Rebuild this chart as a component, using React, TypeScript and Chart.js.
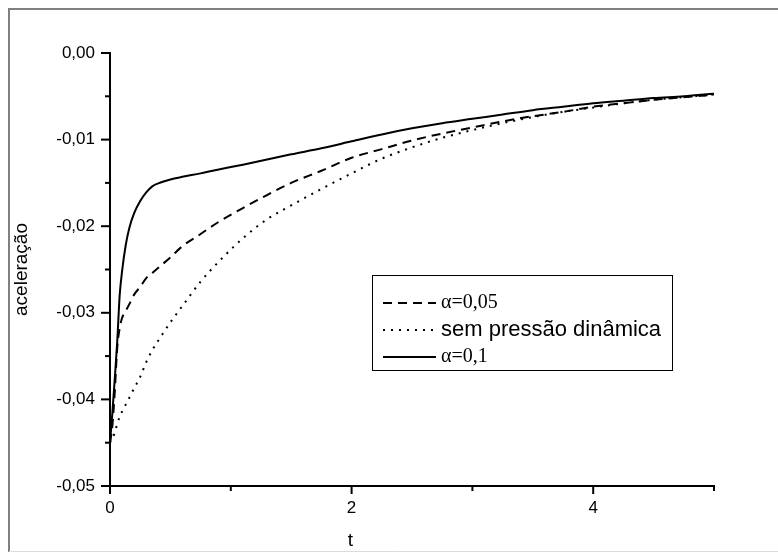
import React, { useEffect, useRef } from 'react';
import { Chart, registerables } from 'chart.js';

Chart.register(...registerables);

// time values (t)
const tValues = [
  0, 0.02, 0.04, 0.06, 0.08, 0.1, 0.13, 0.16, 0.2, 0.25, 0.3, 0.35, 0.4, 0.5, 0.6, 0.75, 0.9,
  1.1, 1.3, 1.5, 1.75, 2, 2.25, 2.5, 2.75, 3, 3.25, 3.5, 3.75, 4, 4.25, 4.5, 4.75, 5,
];

// α = 0,05 (dashed)
const accelAlpha005 = [
  -0.045, -0.043, -0.039, -0.034, -0.0318, -0.0306, -0.0298, -0.029, -0.0279, -0.027, -0.026,
  -0.0254, -0.0248, -0.0236, -0.0223, -0.0209, -0.0195, -0.0179, -0.0164, -0.015, -0.0136,
  -0.0121, -0.0111, -0.0101, -0.0093, -0.0086, -0.0079, -0.0073, -0.0068, -0.0062, -0.0058,
  -0.0054, -0.0051, -0.0048,
];

// sem pressão dinâmica (dotted)
const accelSemPressao = [
  -0.045, -0.0445, -0.0438, -0.0428, -0.042, -0.0414, -0.0406, -0.0398, -0.0387, -0.0374,
  -0.0357, -0.0343, -0.0332, -0.0311, -0.0292, -0.0264, -0.0241, -0.0214, -0.0192, -0.0176,
  -0.0157, -0.0139, -0.0122, -0.0109, -0.0098, -0.0089, -0.0081, -0.0074, -0.0068, -0.0063,
  -0.0058, -0.0054, -0.0051, -0.0048,
];

// α = 0,1 (solid)
const accelAlpha01 = [
  -0.045, -0.0415, -0.0375, -0.0333, -0.028, -0.0252, -0.0222, -0.0202, -0.0185, -0.0171,
  -0.0161, -0.0154, -0.01505, -0.0146, -0.0143, -0.0139, -0.01345, -0.0129, -0.0123, -0.0117,
  -0.011, -0.0102, -0.0094, -0.0087, -0.0081, -0.0076, -0.0071, -0.0066, -0.0062, -0.0058,
  -0.0055, -0.0052, -0.005, -0.0047,
];

const seriesLabels = ['α=0,05', 'sem pressão dinâmica', 'α=0,1'];
const xAxisTitle = 't';
const yAxisTitle = 'aceleração';

const SANS = '"Liberation Sans", Arial, sans-serif';
const SERIF = '"Liberation Serif", "Times New Roman", serif';

const toPoints = (ys: number[]) => tValues.map((t, i) => ({ x: t, y: ys[i] }));

const isMajorY = (v: number) => Math.round(Math.abs(v) * 1000) % 10 === 0;
const isMajorX = (v: number) => Math.round(v) % 2 === 0;

const framePlugin = {
  id: 'frame',
  beforeDraw(chart: any) {
    const { ctx, width, height } = chart;
    ctx.save();
    ctx.fillStyle = '#ffffff';
    ctx.fillRect(0, 0, width, height);
    ctx.strokeStyle = '#808080';
    ctx.lineWidth = 2;
    ctx.beginPath();
    ctx.moveTo(9, height);
    ctx.lineTo(9, 9);
    ctx.lineTo(width, 9);
    ctx.stroke();
    ctx.strokeStyle = '#dcdcdc';
    ctx.lineWidth = 1;
    ctx.beginPath();
    ctx.moveTo(9, 551.5);
    ctx.lineTo(width, 551.5);
    ctx.stroke();
    ctx.restore();
  },
};

const tickMarksPlugin = {
  id: 'tickMarks',
  afterDraw(chart: any) {
    const { ctx, chartArea } = chart;
    const xs = chart.scales.x;
    const ys = chart.scales.y;
    ctx.save();
    ctx.strokeStyle = '#000';
    ctx.lineWidth = 2;
    ys.ticks.forEach((tk: any) => {
      const py = ys.getPixelForValue(tk.value);
      const len = isMajorY(tk.value) ? 9 : 5;
      ctx.beginPath();
      ctx.moveTo(chartArea.left - len, py);
      ctx.lineTo(chartArea.left, py);
      ctx.stroke();
    });
    xs.ticks.forEach((tk: any) => {
      const px = xs.getPixelForValue(tk.value);
      const len = isMajorX(tk.value) ? 8 : 5;
      ctx.beginPath();
      ctx.moveTo(px, chartArea.bottom);
      ctx.lineTo(px, chartArea.bottom + len);
      ctx.stroke();
    });
    // x axis title
    ctx.fillStyle = '#000';
    ctx.font = `19px ${SANS}`;
    ctx.textAlign = 'center';
    ctx.textBaseline = 'alphabetic';
    ctx.fillText(xAxisTitle, xs.getPixelForValue(1.99), 546);
    ctx.restore();
  },
};

const legendBoxPlugin = {
  id: 'legendBox',
  afterDraw(chart: any) {
    const { ctx } = chart;
    ctx.save();
    const bx = 372.5, by = 275.5, bw = 300, bh = 95;
    ctx.fillStyle = '#fff';
    ctx.fillRect(bx, by, bw, bh);
    ctx.strokeStyle = '#000';
    ctx.lineWidth = 1;
    ctx.strokeRect(bx, by, bw, bh);
    const rows = [303, 330, 357];
    const fonts = [`20px ${SERIF}`, `22px ${SANS}`, `20px ${SERIF}`];
    chart.data.datasets.forEach((ds: any, i: number) => {
      const y = rows[i];
      ctx.beginPath();
      ctx.setLineDash(ds.borderDash || []);
      ctx.lineWidth = ds.borderWidth;
      ctx.strokeStyle = ds.borderColor;
      ctx.moveTo(383, y);
      ctx.lineTo(436, y);
      ctx.stroke();
      ctx.setLineDash([]);
      ctx.fillStyle = '#000';
      ctx.font = fonts[i];
      ctx.textAlign = 'left';
      ctx.textBaseline = 'middle';
      ctx.fillText(ds.label, 441, y);
    });
    ctx.restore();
  },
};

export default function App() {
  const canvasRef = useRef<HTMLCanvasElement | null>(null);

  useEffect(() => {
    const canvas = canvasRef.current;
    if (!canvas) return;
    const chart = new Chart(canvas, {
      type: 'line',
      data: {
        datasets: [
          {
            label: seriesLabels[0],
            data: toPoints(accelAlpha005),
            borderColor: '#000',
            borderWidth: 2,
            borderDash: [9, 6],
            pointRadius: 0,
            cubicInterpolationMode: 'monotone',
            fill: false,
          },
          {
            label: seriesLabels[1],
            data: toPoints(accelSemPressao),
            borderColor: '#000',
            borderWidth: 2,
            borderDash: [2, 6],
            pointRadius: 0,
            cubicInterpolationMode: 'monotone',
            fill: false,
          },
          {
            label: seriesLabels[2],
            data: toPoints(accelAlpha01),
            borderColor: '#000',
            borderWidth: 2,
            pointRadius: 0,
            cubicInterpolationMode: 'monotone',
            fill: false,
          },
        ],
      },
      options: {
        animation: false,
        responsive: false,
        maintainAspectRatio: false,
        events: [],
        layout: { padding: { left: 0, right: 64, top: 53, bottom: 0 } },
        plugins: {
          legend: { display: false },
          tooltip: { enabled: false },
          title: { display: false },
        },
        scales: {
          x: {
            type: 'linear',
            min: 0,
            max: 5,
            grid: { display: false, drawTicks: false },
            border: { display: true, color: '#000', width: 2 },
            ticks: {
              stepSize: 1,
              autoSkip: false,
              maxRotation: 0,
              padding: 12,
              color: '#000',
              font: { family: SANS, size: 17 },
              callback: (v: any) => (isMajorX(Number(v)) ? String(Math.round(Number(v))) : ''),
            },
            afterFit: (s: any) => {
              s.height = 66;
            },
          },
          y: {
            type: 'linear',
            min: -0.05,
            max: 0,
            grid: { display: false, drawTicks: false },
            border: { display: true, color: '#000', width: 2 },
            title: {
              display: true,
              text: yAxisTitle,
              color: '#000',
              font: { family: SANS, size: 19 },
              padding: { top: 10, bottom: 0 },
            },
            ticks: {
              stepSize: 0.005,
              autoSkip: false,
              padding: 15,
              color: '#000',
              font: { family: SANS, size: 17 },
              callback: (v: any) => {
                const n = Number(v);
                if (!isMajorY(n)) return '';
                const r = Math.round(n * 100) / 100;
                return (r === 0 ? 0 : r).toFixed(2).replace('.', ',');
              },
            },
            afterFit: (s: any) => {
              s.width = 110;
            },
          },
        },
      },
      plugins: [framePlugin, tickMarksPlugin, legendBoxPlugin],
    } as any);
    return () => chart.destroy();
  }, []);

  return (
    <canvas
      ref={canvasRef}
      width={778}
      height={552}
      style={{ position: 'absolute', left: 0, top: 0, width: 778, height: 552, display: 'block' }}
    />
  );
}
